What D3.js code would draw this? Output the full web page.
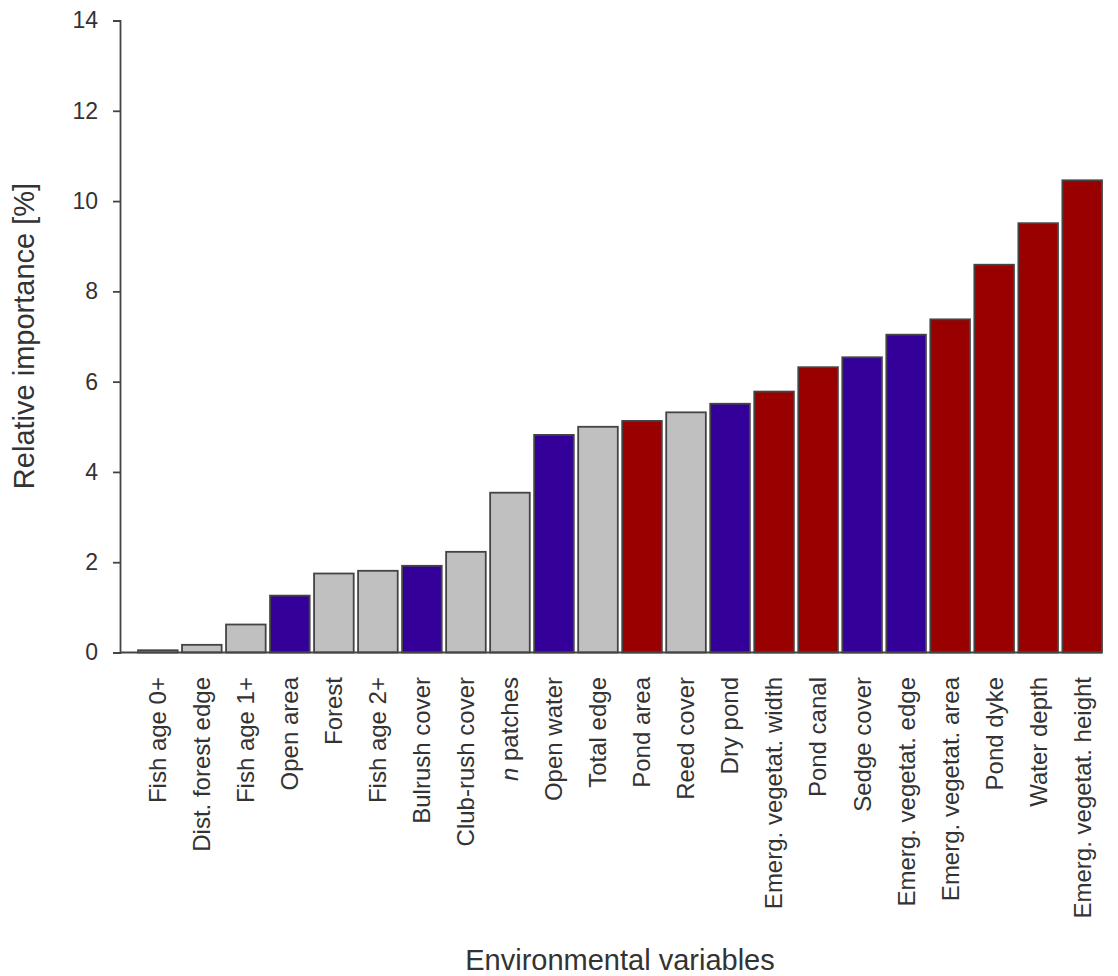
<!DOCTYPE html>
<html>
<head>
<meta charset="utf-8">
<script src="https://cdn.jsdelivr.net/npm/d3@7"></script>
<style>
  html, body { margin: 0; padding: 0; background: #fff; }
  svg { display: block; }
  text { font-family: "Liberation Sans", Arial, sans-serif; fill: #333; }
</style>
</head>
<body>
<svg id="chart" width="1118" height="976"></svg>
<script>
const categories = [
  "Fish age 0+", "Dist. forest edge", "Fish age 1+", "Open area", "Forest",
  "Fish age 2+", "Bulrush cover", "Club-rush cover", "n patches", "Open water",
  "Total edge", "Pond area", "Reed cover", "Dry pond", "Emerg. vegetat. width",
  "Pond canal", "Sedge cover", "Emerg. vegetat. edge", "Emerg. vegetat. area",
  "Pond dyke", "Water depth", "Emerg. vegetat. height"
];
const values = [
  0.05, 0.17, 0.62, 1.26, 1.75,
  1.81, 1.92, 2.23, 3.54, 4.82,
  5.00, 5.13, 5.32, 5.51, 5.78,
  6.32, 6.54, 7.04, 7.38,
  8.59, 9.51, 10.46
];
const groups = [
  "other", "other", "other", "blue", "other",
  "other", "blue", "other", "other", "blue",
  "other", "red", "other", "blue", "red",
  "red", "blue", "blue", "red",
  "red", "red", "red"
];
const yTicks = [0, 2, 4, 6, 8, 10, 12, 14];
const groupColors = { other: "#c0c0c0", blue: "#330099", red: "#990000" };

const svg = d3.select("#chart");

const x = d3.scaleBand()
  .domain(categories)
  .range([138, 1102])
  .paddingInner(0.1)
  .paddingOuter(0);

const y = d3.scaleLinear().domain([0, 14]).range([652.5, 20.5]);

const data = categories.map((c, i) => ({ c, v: values[i], g: groups[i] }));

// bars
svg.append("g").selectAll("rect")
  .data(data)
  .join("rect")
  .attr("x", d => x(d.c))
  .attr("width", x.bandwidth())
  .attr("y", d => y(d.v))
  .attr("height", d => y(0) - y(d.v))
  .attr("fill", d => groupColors[d.g])
  .attr("stroke", "#444")
  .attr("stroke-width", 1.8);

// y axis
const yAxis = d3.axisLeft(y)
  .tickValues(yTicks)
  .tickSize(7)
  .tickPadding(15)
  .tickFormat(d3.format("d"));
const yg = svg.append("g").attr("transform", "translate(120,0)").call(yAxis);
yg.select(".domain").attr("stroke", "#444").attr("stroke-width", 1.8);
yg.selectAll(".tick line").attr("stroke", "#444").attr("stroke-width", 1.8);
yg.selectAll(".tick text")
  .attr("font-size", 23)
  .attr("font-family", "'Liberation Sans', Arial, sans-serif")
  .attr("fill", "#333");

// x axis baseline
svg.append("line")
  .attr("x1", 120).attr("x2", 1102)
  .attr("y1", y(0)).attr("y2", y(0))
  .attr("stroke", "#444").attr("stroke-width", 1.8);

// x labels
const lbl = svg.append("g").selectAll("text")
  .data(data)
  .join("text")
  .attr("transform", d => `translate(${x(d.c) + x.bandwidth() / 2},677) rotate(-90)`)
  .attr("text-anchor", "end")
  .attr("dy", "0.35em")
  .attr("font-size", 24);
lbl.each(function(d) {
  const t = d3.select(this);
  if (d.c === "n patches") {
    t.append("tspan").attr("font-style", "italic").text("n");
    t.append("tspan").text(" patches");
  } else {
    t.text(d.c);
  }
});

// axis titles
svg.append("text")
  .attr("transform", "translate(34,336) rotate(-90)")
  .attr("text-anchor", "middle")
  .attr("font-size", 29)
  .text("Relative importance [%]");

svg.append("text")
  .attr("x", 620).attr("y", 970)
  .attr("text-anchor", "middle")
  .attr("font-size", 29)
  .text("Environmental variables");
</script>
</body>
</html>
